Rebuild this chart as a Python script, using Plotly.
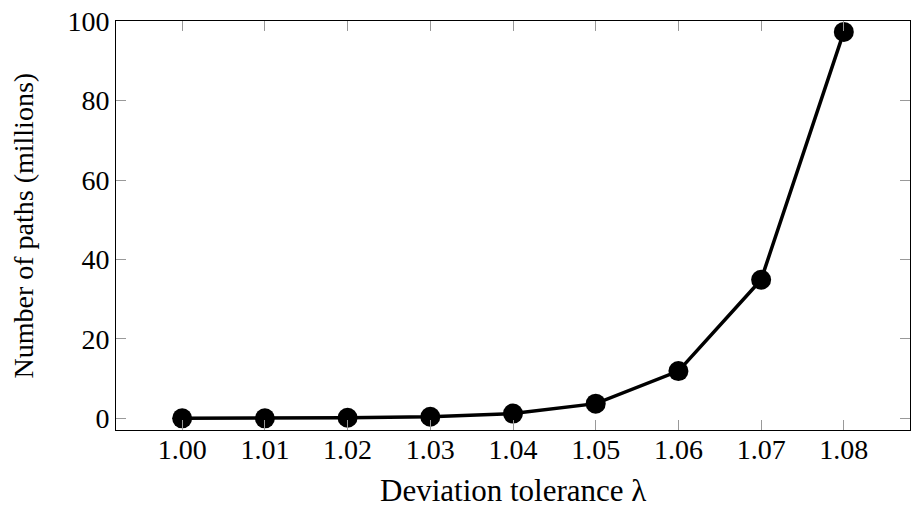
import plotly.graph_objects as go

tolerance = [1.00, 1.01, 1.02, 1.03, 1.04, 1.05, 1.06, 1.07, 1.08]
paths_millions = [0.0, 0.0, 0.15, 0.4, 1.2, 3.7, 11.9, 34.9, 97.3]
x_ticks = [1.00, 1.01, 1.02, 1.03, 1.04, 1.05, 1.06, 1.07, 1.08]
x_tick_labels = ["1.00", "1.01", "1.02", "1.03", "1.04", "1.05", "1.06", "1.07", "1.08"]
y_ticks = [0, 20, 40, 60, 80, 100]
x_title = "Deviation tolerance λ"
y_title = "Number of paths (millions)"

font = "Liberation Serif, DejaVu Serif, serif"

fig = go.Figure()
fig.add_trace(go.Scatter(
    x=tolerance, y=paths_millions, mode="lines+markers",
    line=dict(color="black", width=3.5),
    marker=dict(color="black", size=20),
    showlegend=False,
    cliponaxis=False,
))

fig.update_layout(
    width=914, height=513,
    margin=dict(l=116, r=4, t=21, b=83),
    paper_bgcolor="white", plot_bgcolor="white",
    font=dict(family=font, size=28, color="black"),
    annotations=[
        dict(text=x_title, xref="paper", yref="paper", x=0.5, y=0,
             xanchor="center", yanchor="middle", yshift=-60, showarrow=False,
             font=dict(size=31)),
        dict(text=y_title, xref="paper", yref="paper", x=0, y=0.5,
             xanchor="center", yanchor="middle", xshift=-93, showarrow=False,
             textangle=-90, font=dict(size=28)),
    ],
)
fig.update_xaxes(
    range=[0.992, 1.088], tickvals=x_ticks, ticktext=x_tick_labels,
    ticks="inside", ticklen=10, tickcolor="#999999", tickwidth=1,
    showline=True, linecolor="black", linewidth=1, mirror="allticks",
    showgrid=False, zeroline=False, automargin=False,
    tickfont=dict(size=28), ticklabelstandoff=-6,
)
fig.update_yaxes(
    range=[-2.94, 100.05], tickvals=y_ticks,
    ticks="inside", ticklen=10, tickcolor="#999999", tickwidth=1,
    showline=True, linecolor="black", linewidth=1, mirror="allticks",
    showgrid=False, zeroline=False, automargin=False,
    tickfont=dict(size=28), ticklabeloverflow="allow",
)
fig.write_html("out.html", config={"displayModeBar": False},
               post_script="document.body.style.margin='0';")
